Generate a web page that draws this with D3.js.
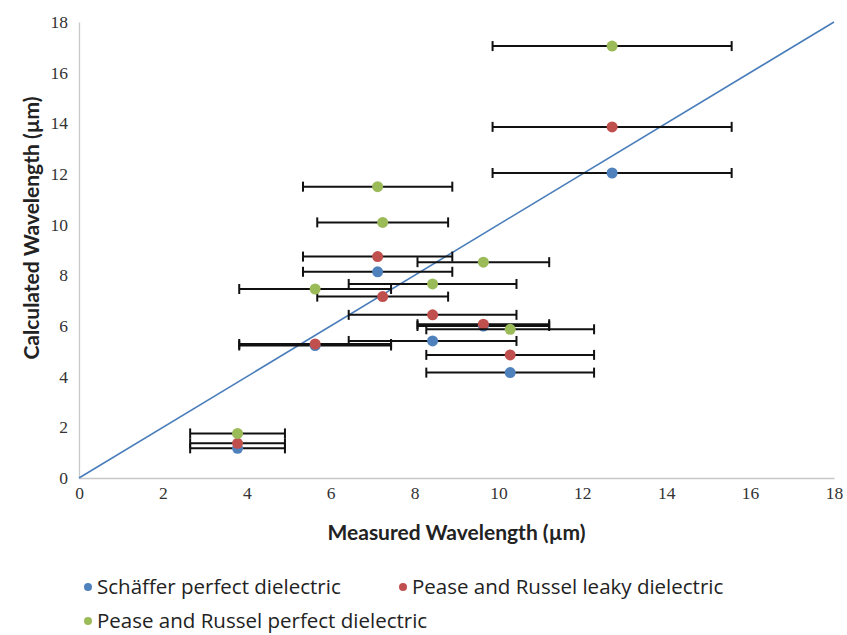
<!DOCTYPE html>
<html>
<head>
<meta charset="utf-8">
<script src="https://cdn.jsdelivr.net/npm/d3@7"></script>
<style>
  body { margin: 0; background: #fff; }
  svg { display: block; }
</style>
</head>
<body>
<svg id="chart"></svg>
<script>
// Series names
const seriesNames = [
  "Schäffer perfect dielectric",
  "Pease and Russel leaky dielectric",
  "Pease and Russel perfect dielectric"
];

// Measured wavelength (x) and its error for each point
const schafferX   = [12.71, 7.12, 8.43, 10.28, 3.78, 9.64, 5.63];
const schafferErr = [2.85, 1.78, 2.0, 2.0, 1.13, 1.57, 1.81];
const schafferY   = [12.04, 8.14, 5.41, 4.16, 1.17, 6.00, 5.23];

const leakyX   = [12.71, 7.12, 7.24, 8.43, 9.64, 5.63, 10.28, 3.78];
const leakyErr = [2.85, 1.78, 1.56, 2.0, 1.57, 1.81, 2.0, 1.13];
const leakyY   = [13.86, 8.74, 7.16, 6.44, 6.07, 5.29, 4.86, 1.37];

const perfectX   = [12.71, 7.12, 7.24, 9.64, 8.43, 5.63, 10.28, 3.78];
const perfectErr = [2.85, 1.78, 1.56, 1.57, 2.0, 1.81, 2.0, 1.13];
const perfectY   = [17.05, 11.50, 10.09, 8.52, 7.66, 7.46, 5.87, 1.76];

const tickValues = [0, 2, 4, 6, 8, 10, 12, 14, 16, 18];
const colors = ["#4f81bd", "#c0504d", "#9bbb59"];

const series = [
  { name: seriesNames[0], xs: schafferX, ys: schafferY, errs: schafferErr, color: colors[0] },
  { name: seriesNames[1], xs: leakyX, ys: leakyY, errs: leakyErr, color: colors[1] },
  { name: seriesNames[2], xs: perfectX, ys: perfectY, errs: perfectErr, color: colors[2] }
].map(s => ({ ...s, points: s.xs.map((x, i) => ({ x, y: s.ys[i], e: s.errs[i] })) }));

const W = 847, H = 635;
const margin = { top: 22, right: 13, bottom: 157, left: 79 };
const width = W - margin.left - margin.right;
const height = H - margin.top - margin.bottom;

const svg = d3.select("#chart").attr("width", W).attr("height", H);
const chart = svg.append("g")
  .attr("transform", `translate(${margin.left},${margin.top})`);

const x = d3.scaleLinear().domain([0, 18]).range([0, width]);
const y = d3.scaleLinear().domain([0, 18]).range([height, 0]);

// Axes (no tick marks, light grey domain line)
const xAxis = chart.append("g")
  .attr("transform", `translate(0,${height})`)
  .call(d3.axisBottom(x).tickValues(tickValues).tickSize(0).tickPadding(9));
const yAxis = chart.append("g")
  .call(d3.axisLeft(y).tickValues(tickValues).tickSize(0).tickPadding(11));

[xAxis, yAxis].forEach(a => {
  a.select(".domain").attr("stroke", "#c8c8c8").attr("stroke-width", 1.3);
  a.selectAll("text")
    .style("font-family", "'Liberation Serif', serif")
    .style("font-size", "17.5px")
    .attr("fill", "#333");
});

// y = x reference line
chart.append("line")
  .attr("x1", x(0)).attr("y1", y(0))
  .attr("x2", x(18)).attr("y2", y(18))
  .attr("stroke", "#4a7ebb")
  .attr("stroke-width", 1.6);

// Error bars and dots, series by series
series.forEach(s => {
  const g = chart.append("g");
  const bars = g.selectAll("g.err")
    .data(s.points)
    .enter()
    .append("g")
      .attr("class", "err")
      .attr("stroke", "#111")
      .attr("stroke-width", 2);

  bars.append("line")
    .attr("x1", d => x(d.x - d.e)).attr("x2", d => x(d.x + d.e))
    .attr("y1", d => y(d.y)).attr("y2", d => y(d.y));
  bars.append("line")
    .attr("x1", d => x(d.x - d.e)).attr("x2", d => x(d.x - d.e))
    .attr("y1", d => y(d.y) - 5).attr("y2", d => y(d.y) + 5);
  bars.append("line")
    .attr("x1", d => x(d.x + d.e)).attr("x2", d => x(d.x + d.e))
    .attr("y1", d => y(d.y) - 5).attr("y2", d => y(d.y) + 5);

  g.selectAll("circle")
    .data(s.points)
    .enter()
    .append("circle")
      .attr("cx", d => x(d.x))
      .attr("cy", d => y(d.y))
      .attr("r", 5.5)
      .attr("fill", s.color);
});

// Axis titles
svg.append("text")
  .attr("x", margin.left + width / 2)
  .attr("y", 540)
  .attr("text-anchor", "middle")
  .style("font-family", "Lato, sans-serif")
  .style("font-weight", "bold")
  .style("font-size", "21px")
  .attr("fill", "#222")
  .text("Measured Wavelength (µm)");

svg.append("text")
  .attr("transform", `translate(39,228) rotate(-90)`)
  .attr("text-anchor", "middle")
  .style("font-family", "Lato, sans-serif")
  .style("font-weight", "bold")
  .style("font-size", "21px")
  .attr("fill", "#222")
  .text("Calculated Wavelength (µm)");

// Legend
const legendPos = [[88, 587], [403, 587], [88, 621]];
const legend = svg.selectAll("g.legend")
  .data(series)
  .enter()
  .append("g")
    .attr("class", "legend")
    .attr("transform", (d, i) => `translate(${legendPos[i][0]},${legendPos[i][1]})`);

legend.append("circle")
  .attr("r", 4)
  .attr("fill", d => d.color);
legend.append("text")
  .attr("x", 9)
  .attr("dy", "0.35em")
  .style("font-family", "'Open Sans', sans-serif")
  .style("font-size", "20.5px")
  .attr("fill", "#222")
  .text(d => d.name);
</script>
</body>
</html>
